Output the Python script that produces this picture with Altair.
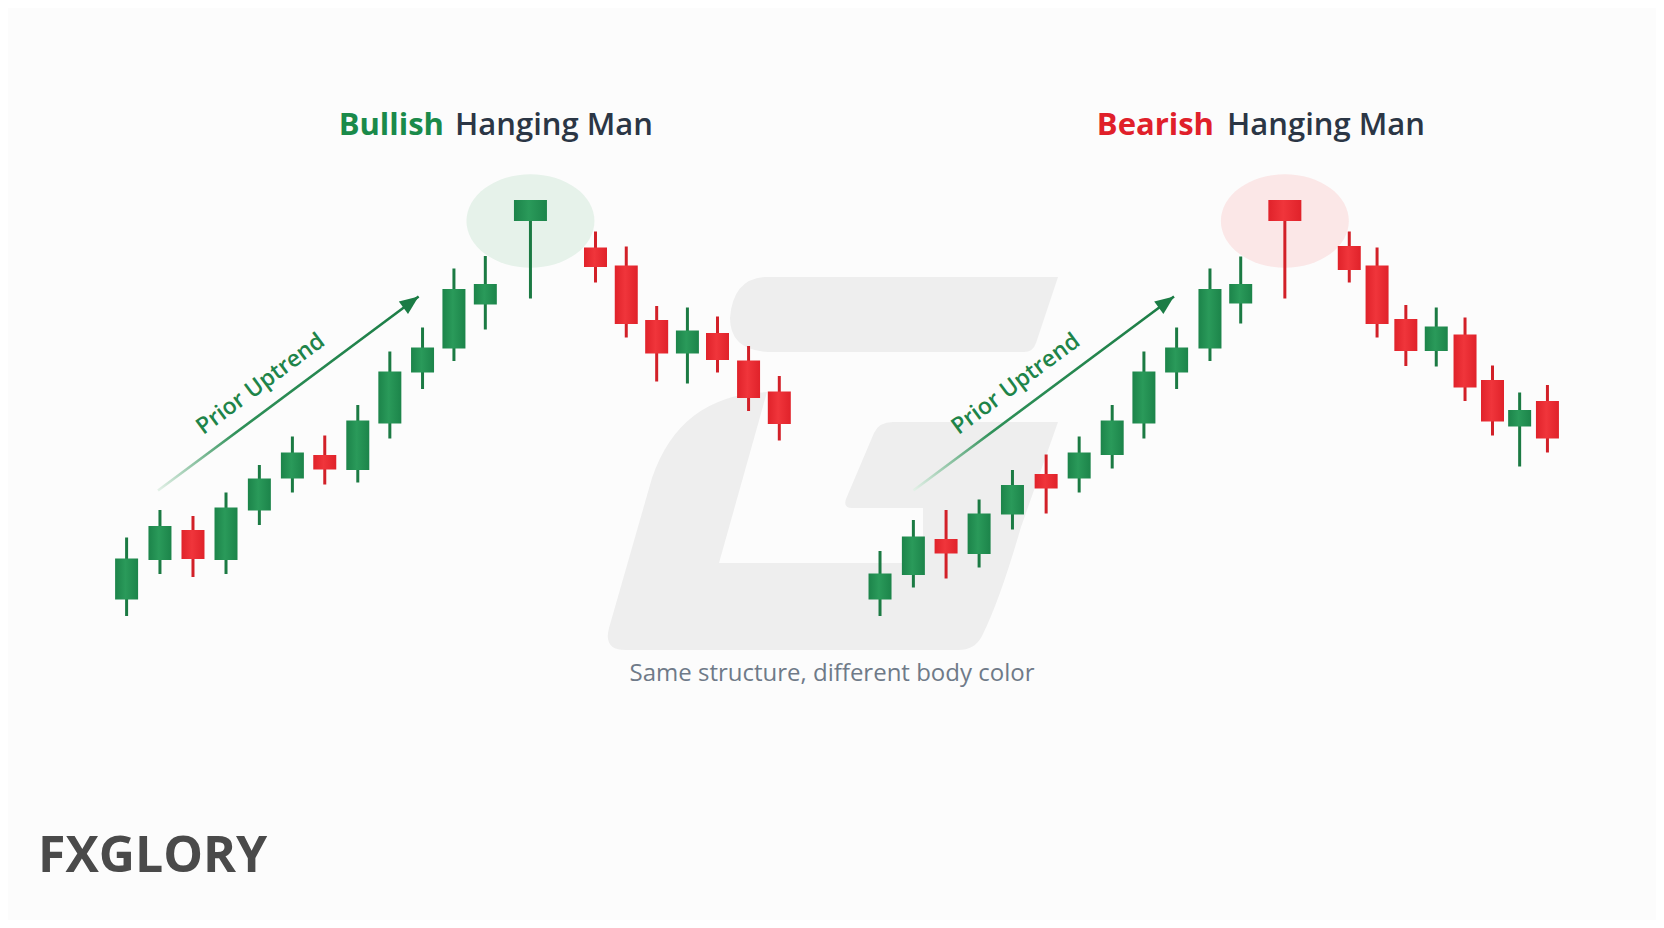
import math
import altair as alt
import pandas as pd

# ---------------- data ----------------
# Bullish panel (slot = bar index, prices in arbitrary units)
bull_slot = [1, 2.02, 3.03, 4.04, 5.06, 6.07, 7.06, 8.07, 9.05, 10.05, 11.01, 11.97,
             13.35, 15.34, 16.28, 17.21, 18.15, 19.07, 20.02, 20.96]
bull_open = [20.1, 28.0, 34.0, 28.0, 37.9, 44.3, 49.0, 46.0, 55.3, 65.5, 70.3, 79.1,
             95.8, 90.5, 86.9, 76.0, 69.3, 73.4, 67.9, 61.7]
bull_high = [32.5, 38.0, 36.8, 41.5, 47.0, 52.7, 52.9, 59.0, 69.7, 74.5, 86.3, 88.8,
             100.0, 93.7, 90.7, 78.8, 78.5, 76.7, 70.8, 64.8]
bull_low = [16.8, 25.2, 24.6, 25.2, 35.0, 41.5, 43.1, 43.5, 52.3, 62.2, 67.8, 74.1,
            80.3, 83.5, 72.5, 63.7, 63.3, 65.5, 57.8, 51.9]
bull_close = [28.3, 34.8, 28.2, 38.5, 44.3, 49.5, 46.1, 55.9, 65.7, 70.5, 82.2, 83.2,
              100.0, 86.6, 75.2, 69.3, 73.9, 68.0, 60.4, 55.2]
bull_role = ["trend"] * 12 + ["hanging man"] + ["after"] * 7

# Bearish panel
bear_slot = [1, 2.02, 3.02, 4.03, 5.05, 6.08, 7.09, 8.1, 9.07, 10.07, 11.09, 12.03,
             13.38, 15.35, 16.2, 17.08, 18.01, 18.89, 19.73, 20.56, 21.41]
bear_open = [20.1, 25.0, 32.2, 29.2, 37.1, 45.2, 44.3, 49.0, 55.3, 65.5, 70.3, 79.3,
             100.0, 90.8, 86.9, 76.2, 69.8, 73.1, 64.0, 54.7, 59.8]
bear_high = [29.8, 36.0, 38.0, 40.1, 46.0, 49.1, 52.7, 59.0, 69.7, 74.5, 86.3, 88.7,
             100.0, 93.7, 90.5, 79.0, 78.5, 76.5, 66.9, 61.5, 63.0]
bear_low = [16.8, 22.5, 24.3, 26.5, 34.1, 37.3, 41.5, 46.3, 52.3, 62.2, 67.8, 75.3,
            80.3, 83.5, 72.5, 66.8, 66.7, 59.8, 52.9, 46.7, 49.5]
bear_close = [25.3, 32.7, 29.3, 37.3, 43.0, 42.3, 49.5, 55.9, 65.7, 70.5, 82.2, 83.2,
              95.8, 86.0, 75.2, 69.8, 74.7, 62.5, 55.7, 58.0, 52.3]
bear_role = ["trend"] * 12 + ["hanging man"] + ["after"] * 8

# "Prior Uptrend" arrows (start / end in slot & price units) and labels
arrow_panel = ["Bullish", "Bearish"]
arrow_x0 = [1.96, 2.02]
arrow_y0 = [41.9, 41.9]
arrow_x1 = [9.93, 9.99]
arrow_y1 = [80.7, 80.7]
label_x = [5.10, 5.15]
label_y = [63.2, 63.2]
label_text = ["Prior Uptrend", "Prior Uptrend"]

# ---------------- layout / style ----------------
W, H = 1648, 912
RIGHT_OFFSET = 23.04
XDOM = [-2.474, 47.617]
YDOM = [-44.0, 138.4]
GREEN_WICK = "#1b7a43"
RED_WICK = "#d22028"
FONT = "Open Sans"

xs = alt.Scale(domain=XDOM, nice=False, zero=False)
ys = alt.Scale(domain=YDOM, nice=False, zero=False)

candles = pd.concat([
    pd.DataFrame({"panel": "Bullish", "slot": bull_slot, "open": bull_open, "high": bull_high,
                  "low": bull_low, "close": bull_close, "role": bull_role}),
    pd.DataFrame({"panel": "Bearish", "slot": bear_slot, "open": bear_open, "high": bear_high,
                  "low": bear_low, "close": bear_close, "role": bear_role}),
], ignore_index=True)

arrows = pd.DataFrame({"panel": arrow_panel, "x0": arrow_x0, "y0": arrow_y0,
                       "x1": arrow_x1, "y1": arrow_y1, "lx": label_x, "ly": label_y,
                       "label": label_text})

one = pd.DataFrame({"k": [0]})

base = alt.Chart(candles).transform_calculate(
    xpos=f"datum.panel == 'Bearish' ? datum.slot + {RIGHT_OFFSET} : datum.slot",
    dir="datum.close >= datum.open ? 'up' : 'down'",
    body_lo="min(datum.open, datum.close)",
)

abase = alt.Chart(arrows).transform_calculate(
    off=f"datum.panel == 'Bearish' ? {RIGHT_OFFSET} : 0",
    ax0="datum.x0 + datum.off", ax1="datum.x1 + datum.off", tx="datum.lx + datum.off",
)

# ---------- watermark "G" (decorative shape, page coordinates) ----------
wm_path = (
    "M 765 277 L 1058 277 L 1036 343 Q 1033 352 1024 352 L 768 352 "
    "Q 730 350 730 318 Q 733 279 765 277 Z "
    "M 767 392 L 719 563 L 923 563 L 923 508 L 852 508 Q 843 508 846 499 "
    "L 874 433 Q 879 422 893 422 L 1058 422 L 1021 527 Q 1000 600 982 636 "
    "Q 975 650 958 650 L 626 650 Q 603 650 609 628 L 652 478 Q 680 395 767 392 Z"
)
watermark = alt.Chart(one).mark_point(
    shape=wm_path, size=4, filled=True, opacity=1, color="#eeeeee", strokeWidth=0
).encode(x=alt.value(-8), y=alt.value(-8))

# ---------- highlight ellipses ----------
pts = []
for i in range(64):
    a = 2 * math.pi * i / 64
    pts.append(f"{math.cos(a):.4f} {0.73 * math.sin(a):.4f}")
ellipse_path = "M " + " L ".join(pts) + " Z"
RX = 64


def ellipse(panel, color):
    return base.transform_filter(
        f"datum.role == 'hanging man' && datum.panel == '{panel}'"
    ).mark_point(
        shape=ellipse_path, size=(2 * RX) ** 2, filled=True, opacity=1, strokeWidth=0,
        color=color,
    ).encode(
        x=alt.X("xpos:Q", scale=xs, axis=None),
        y=alt.Y("body_lo:Q", scale=ys, axis=None),
    )


ellipses = [ellipse("Bullish", "#e6f2ea"), ellipse("Bearish", "#fbe7e7")]

# ---------- arrows ----------
arrow_line = abase.mark_rule(
    strokeWidth=2.6,
    stroke=alt.LinearGradient(
        gradient="linear", x1=0, y1=1, x2=1, y2=0,
        stops=[alt.GradientStop(color="#e4f1e8", offset=0),
               alt.GradientStop(color="#2f9159", offset=0.3),
               alt.GradientStop(color="#1b7c45", offset=1)],
    ),
).encode(
    x=alt.X("ax0:Q", scale=xs, axis=None), y=alt.Y("y0:Q", scale=ys, axis=None),
    x2="ax1:Q", y2="y1:Q",
)
head_path = "M 0 0 L 0.55 1.35 L -0.55 1.35 Z"
arrow_head = abase.mark_point(
    shape=head_path, size=784, filled=True, opacity=1, strokeWidth=0,
    color="#1b7c45", angle=53.5,
).encode(x=alt.X("ax1:Q", scale=xs, axis=None), y=alt.Y("y1:Q", scale=ys, axis=None))

arrow_text = abase.mark_text(
    font=FONT, fontSize=23, fontWeight=600, color="#1e8449", angle=323.5,
    align="center", baseline="middle",
).encode(x=alt.X("tx:Q", scale=xs, axis=None), y=alt.Y("ly:Q", scale=ys, axis=None),
         text="label:N")


# ---------- candles ----------
def wicks(direction, color):
    return base.transform_filter(f"datum.dir == '{direction}'").mark_rule(
        strokeWidth=3, color=color
    ).encode(
        x=alt.X("xpos:Q", scale=xs, axis=None),
        y=alt.Y("low:Q", scale=ys, axis=None), y2="high:Q",
    )


def grad(c_edge, c_mid):
    return alt.LinearGradient(
        gradient="linear", x1=0, y1=0, x2=1, y2=0,
        stops=[alt.GradientStop(color=c_edge, offset=0),
               alt.GradientStop(color=c_mid, offset=0.45),
               alt.GradientStop(color=c_edge, offset=1)],
    )


def bodies(direction, color, size, role_test):
    return base.transform_filter(f"datum.dir == '{direction}' && {role_test}").mark_bar(
        size=size, color=color
    ).encode(
        x=alt.X("xpos:Q", scale=xs, axis=None),
        y=alt.Y("open:Q", scale=ys, axis=None), y2="close:Q",
    )


normal = "datum.role != 'hanging man'"
hm = "datum.role == 'hanging man'"
GREEN_G = grad("#1c844a", "#2a9a5a")
RED_G = grad("#e0222a", "#f0353b")
candle_layers = [
    wicks("up", GREEN_WICK), wicks("down", RED_WICK),
    bodies("up", GREEN_G, 23, normal), bodies("down", RED_G, 23, normal),
    bodies("up", GREEN_G, 33, hm), bodies("down", RED_G, 33, hm),
]


# ---------- texts ----------
def text_layer(txt, x, y, size, color, weight, align="left"):
    return alt.Chart(one).mark_text(
        text=txt, font=FONT, fontSize=size, fontWeight=weight, color=color,
        align=align, baseline="alphabetic",
    ).encode(x=alt.value(x), y=alt.value(y))


TS = 31
titles = [
    text_layer("Bullish", 436, 127, TS, "#1a8a4a", 700, "right"),
    text_layer("Hanging Man", 447, 127, TS, "#2b3645", 600, "left"),
    text_layer("Bearish", 1206, 127, TS, "#e0202a", 700, "right"),
    text_layer("Hanging Man", 1219, 127, TS, "#2b3645", 600, "left"),
    text_layer("Same structure, different body color", 824, 673, 24, "#6f7a88", 400, "center"),
    text_layer("FXGLORY", 30, 864, 50, "#4a4a4a", 700, "left"),
]

chart = alt.layer(
    watermark, *ellipses, arrow_line, arrow_head, arrow_text, *candle_layers, *titles,
).properties(
    width=W, height=H, padding=0, autosize="none", background="#fcfcfc",
).configure_view(stroke=None)

chart.save("out.html", embed_options={"renderer": "svg", "actions": False})
